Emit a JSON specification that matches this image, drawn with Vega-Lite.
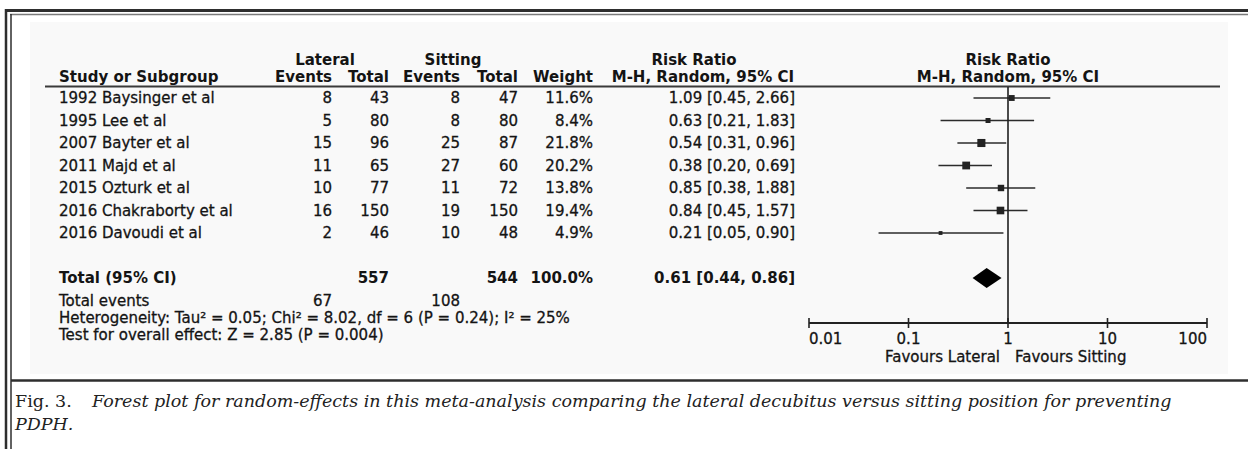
{
  "$schema": "https://vega.github.io/schema/vega-lite/v6.json",
  "width": 1248,
  "height": 449,
  "autosize": "none",
  "padding": 0,
  "background": "white",
  "config": {
    "view": {"stroke": null},
    "text": {"font": "DejaVu Sans", "fontSize": 15, "color": "#141414", "baseline": "middle"}
  },
  "datasets": {
    "rows": [
      {"kind": "study", "row": "1992 Baysinger et al", "le": 8, "lt": 43, "se": 8, "st": 47, "weight": 0.116, "rr": 1.09, "lo": 0.45, "hi": 2.66, "ci": "1.09 [0.45, 2.66]"},
      {"kind": "study", "row": "1995 Lee et al", "le": 5, "lt": 80, "se": 8, "st": 80, "weight": 0.084, "rr": 0.63, "lo": 0.21, "hi": 1.83, "ci": "0.63 [0.21, 1.83]"},
      {"kind": "study", "row": "2007 Bayter et al", "le": 15, "lt": 96, "se": 25, "st": 87, "weight": 0.218, "rr": 0.54, "lo": 0.31, "hi": 0.96, "ci": "0.54 [0.31, 0.96]"},
      {"kind": "study", "row": "2011 Majd et al", "le": 11, "lt": 65, "se": 27, "st": 60, "weight": 0.202, "rr": 0.38, "lo": 0.20, "hi": 0.69, "ci": "0.38 [0.20, 0.69]"},
      {"kind": "study", "row": "2015 Ozturk et al", "le": 10, "lt": 77, "se": 11, "st": 72, "weight": 0.138, "rr": 0.85, "lo": 0.38, "hi": 1.88, "ci": "0.85 [0.38, 1.88]"},
      {"kind": "study", "row": "2016 Chakraborty et al", "le": 16, "lt": 150, "se": 19, "st": 150, "weight": 0.194, "rr": 0.84, "lo": 0.45, "hi": 1.57, "ci": "0.84 [0.45, 1.57]"},
      {"kind": "study", "row": "2016 Davoudi et al", "le": 2, "lt": 46, "se": 10, "st": 48, "weight": 0.049, "rr": 0.21, "lo": 0.05, "hi": 0.90, "ci": "0.21 [0.05, 0.90]"},
      {"kind": "total", "row": "Total (95% CI)", "lt": 557, "st": 544, "weight": 1.0, "rr": 0.61, "lo": 0.44, "hi": 0.86, "ci": "0.61 [0.44, 0.86]"},
      {"kind": "events", "row": "Total events", "le": 67, "se": 108}
    ],
    "decades": [{"t": 0.01}, {"t": 0.1}, {"t": 1}, {"t": 10}, {"t": 100}]
  },
  "data": {"name": "rows"},
  "layer": [
    {"data": {"values": [{}]}, "mark": {"type": "rect", "fill": "#f9f9f9"}, "encoding": {"x": {"value": 30}, "x2": {"value": 1228}, "y": {"value": 22}, "y2": {"value": 374}}},
    {"data": {"values": [{}]}, "mark": {"type": "rule", "stroke": "#2e2e2e", "strokeWidth": 3}, "encoding": {"x": {"value": 5}, "x2": {"value": 1248}, "y": {"value": 10.5}}},
    {"data": {"values": [{}]}, "mark": {"type": "rule", "stroke": "#7a7a7a", "strokeWidth": 1.5}, "encoding": {"x": {"value": 10}, "x2": {"value": 1248}, "y": {"value": 14.5}}},
    {"data": {"values": [{}]}, "mark": {"type": "rule", "stroke": "#2e2e2e", "strokeWidth": 2.5}, "encoding": {"x": {"value": 6}, "y": {"value": 9}, "y2": {"value": 449}}},
    {"data": {"values": [{}]}, "mark": {"type": "rule", "stroke": "#2e2e2e", "strokeWidth": 1.5}, "encoding": {"x": {"value": 11}, "y": {"value": 14}, "y2": {"value": 449}}},
    {"data": {"values": [{}]}, "mark": {"type": "rule", "stroke": "#2e2e2e", "strokeWidth": 2.5}, "encoding": {"x": {"value": 11}, "x2": {"value": 1248}, "y": {"value": 380.5}}},
    {"data": {"values": [{}]}, "mark": {"type": "rule", "stroke": "#3a3a3a", "strokeWidth": 2}, "encoding": {"x": {"value": 45}, "x2": {"value": 1220}, "y": {"value": 86.5}}},

    {"data": {"values": [{}]}, "mark": {"type": "text", "text": "Lateral", "fontWeight": "bold", "align": "center"}, "encoding": {"x": {"value": 325}, "y": {"value": 60}}},
    {"data": {"values": [{}]}, "mark": {"type": "text", "text": "Sitting", "fontWeight": "bold", "align": "center"}, "encoding": {"x": {"value": 453}, "y": {"value": 60}}},
    {"data": {"values": [{}]}, "mark": {"type": "text", "text": "Risk Ratio", "fontWeight": "bold", "align": "center"}, "encoding": {"x": {"value": 694}, "y": {"value": 60}}},
    {"data": {"values": [{}]}, "mark": {"type": "text", "text": "Study or Subgroup", "fontWeight": "bold", "align": "left"}, "encoding": {"x": {"value": 59}, "y": {"value": 77}}},
    {"data": {"values": [{}]}, "mark": {"type": "text", "text": "Events", "fontWeight": "bold", "align": "right"}, "encoding": {"x": {"value": 332}, "y": {"value": 77}}},
    {"data": {"values": [{}]}, "mark": {"type": "text", "text": "Total", "fontWeight": "bold", "align": "right"}, "encoding": {"x": {"value": 389}, "y": {"value": 77}}},
    {"data": {"values": [{}]}, "mark": {"type": "text", "text": "Events", "fontWeight": "bold", "align": "right"}, "encoding": {"x": {"value": 460}, "y": {"value": 77}}},
    {"data": {"values": [{}]}, "mark": {"type": "text", "text": "Total", "fontWeight": "bold", "align": "right"}, "encoding": {"x": {"value": 518}, "y": {"value": 77}}},
    {"data": {"values": [{}]}, "mark": {"type": "text", "text": "Weight", "fontWeight": "bold", "align": "right"}, "encoding": {"x": {"value": 593}, "y": {"value": 77}}},
    {"data": {"values": [{}]}, "mark": {"type": "text", "text": "M-H, Random, 95% CI", "fontWeight": "bold", "align": "right"}, "encoding": {"x": {"value": 794}, "y": {"value": 77}}},
    {"data": {"values": [{}]}, "mark": {"type": "text", "text": "Risk Ratio", "fontWeight": "bold", "align": "center"}, "encoding": {"x": {"datum": 1, "type": "quantitative", "scale": {"type": "log", "domain": [0.01, 100], "range": [809, 1207]}, "axis": null}, "y": {"value": 60}}},
    {"data": {"values": [{}]}, "mark": {"type": "text", "text": "M-H, Random, 95% CI", "fontWeight": "bold", "align": "center"}, "encoding": {"x": {"datum": 1, "type": "quantitative", "scale": {"type": "log", "domain": [0.01, 100], "range": [809, 1207]}, "axis": null}, "y": {"value": 77}}},

    {"mark": {"type": "text", "align": "left", "stroke": "#141414", "strokeWidth": {"expr": "datum.kind === 'total' ? 0 : 0.3"}, "fontWeight": {"expr": "datum.kind === 'total' ? 'bold' : 'normal'"}}, "encoding": {"x": {"value": 59}, "y": {"field": "row", "type": "nominal", "scale": {"type": "point", "padding": 0, "domain": ["1992 Baysinger et al", "1995 Lee et al", "2007 Bayter et al", "2011 Majd et al", "2015 Ozturk et al", "2016 Chakraborty et al", "2016 Davoudi et al", " ", "Total (95% CI)", "Total events"], "range": [98, 300.5]}, "axis": null}, "text": {"field": "row", "type": "nominal"}}},
    {"transform": [{"filter": "isValid(datum.le)"}], "mark": {"type": "text", "align": "right", "stroke": "#141414", "strokeWidth": {"expr": "datum.kind === 'total' ? 0 : 0.3"}, "fontWeight": {"expr": "datum.kind === 'total' ? 'bold' : 'normal'"}}, "encoding": {"x": {"value": 332}, "y": {"field": "row", "type": "nominal", "axis": null}, "text": {"field": "le", "type": "quantitative"}}},
    {"transform": [{"filter": "isValid(datum.lt)"}], "mark": {"type": "text", "align": "right", "stroke": "#141414", "strokeWidth": {"expr": "datum.kind === 'total' ? 0 : 0.3"}, "fontWeight": {"expr": "datum.kind === 'total' ? 'bold' : 'normal'"}}, "encoding": {"x": {"value": 389}, "y": {"field": "row", "type": "nominal", "axis": null}, "text": {"field": "lt", "type": "quantitative"}}},
    {"transform": [{"filter": "isValid(datum.se)"}], "mark": {"type": "text", "align": "right", "stroke": "#141414", "strokeWidth": {"expr": "datum.kind === 'total' ? 0 : 0.3"}, "fontWeight": {"expr": "datum.kind === 'total' ? 'bold' : 'normal'"}}, "encoding": {"x": {"value": 460}, "y": {"field": "row", "type": "nominal", "axis": null}, "text": {"field": "se", "type": "quantitative"}}},
    {"transform": [{"filter": "isValid(datum.st)"}], "mark": {"type": "text", "align": "right", "stroke": "#141414", "strokeWidth": {"expr": "datum.kind === 'total' ? 0 : 0.3"}, "fontWeight": {"expr": "datum.kind === 'total' ? 'bold' : 'normal'"}}, "encoding": {"x": {"value": 518}, "y": {"field": "row", "type": "nominal", "axis": null}, "text": {"field": "st", "type": "quantitative"}}},
    {"transform": [{"filter": "isValid(datum.weight)"}], "mark": {"type": "text", "align": "right", "stroke": "#141414", "strokeWidth": {"expr": "datum.kind === 'total' ? 0 : 0.3"}, "fontWeight": {"expr": "datum.kind === 'total' ? 'bold' : 'normal'"}}, "encoding": {"x": {"value": 593}, "y": {"field": "row", "type": "nominal", "axis": null}, "text": {"field": "weight", "type": "quantitative", "format": ".1%"}}},
    {"transform": [{"filter": "isValid(datum.ci)"}], "mark": {"type": "text", "align": "right", "stroke": "#141414", "strokeWidth": {"expr": "datum.kind === 'total' ? 0 : 0.3"}, "fontWeight": {"expr": "datum.kind === 'total' ? 'bold' : 'normal'"}}, "encoding": {"x": {"value": 795}, "y": {"field": "row", "type": "nominal", "axis": null}, "text": {"field": "ci", "type": "nominal"}}},

    {"data": {"values": [{}]}, "mark": {"type": "text", "text": "Heterogeneity: Tau² = 0.05; Chi² = 8.02, df = 6 (P = 0.24); I² = 25%", "align": "left", "stroke": "#141414", "strokeWidth": 0.3}, "encoding": {"x": {"value": 59}, "y": {"value": 318}}},
    {"data": {"values": [{}]}, "mark": {"type": "text", "text": "Test for overall effect: Z = 2.85 (P = 0.004)", "align": "left", "stroke": "#141414", "strokeWidth": 0.3}, "encoding": {"x": {"value": 59}, "y": {"value": 335}}},

    {"transform": [{"filter": "datum.kind === 'study'"}], "mark": {"type": "rule", "stroke": "#2b2b2b", "strokeWidth": 1.6}, "encoding": {
      "x": {"field": "lo", "type": "quantitative", "scale": {"type": "log", "domain": [0.01, 100], "range": [809, 1207]}, "axis": null},
      "x2": {"field": "hi"},
      "y": {"field": "row", "type": "nominal", "axis": null}}},
    {"data": {"values": [{}]}, "mark": {"type": "rule", "stroke": "#222222", "strokeWidth": 2}, "encoding": {"x": {"datum": 0.01, "type": "quantitative", "scale": {"type": "log", "domain": [0.01, 100], "range": [809, 1207]}, "axis": null}, "x2": {"datum": 100}, "y": {"value": 323}}},
    {"data": {"name": "decades"}, "mark": {"type": "rule", "stroke": "#222222", "strokeWidth": 1.6}, "encoding": {"x": {"field": "t", "type": "quantitative", "scale": {"type": "log", "domain": [0.01, 100], "range": [809, 1207]}, "axis": null}, "y": {"value": 318}, "y2": {"value": 328}}},
    {"data": {"name": "decades"}, "mark": {"type": "text", "stroke": "#141414", "strokeWidth": 0.3, "align": {"expr": "datum.t === 0.01 ? 'left' : (datum.t === 100 ? 'right' : 'center')"}}, "encoding": {"x": {"field": "t", "type": "quantitative", "scale": {"type": "log", "domain": [0.01, 100], "range": [809, 1207]}, "axis": null}, "y": {"value": 339}, "text": {"field": "t", "type": "quantitative", "format": "~g"}}},
    {"data": {"values": [{}]}, "mark": {"type": "rule", "stroke": "#1f1f1f", "strokeWidth": 1.6}, "encoding": {"x": {"datum": 1, "type": "quantitative", "scale": {"type": "log", "domain": [0.01, 100], "range": [809, 1207]}, "axis": null}, "y": {"value": 87}, "y2": {"value": 323}}},
    {"transform": [{"filter": "datum.kind === 'study'"}], "mark": {"type": "square", "filled": true, "color": "#222222", "opacity": 1}, "encoding": {
      "x": {"field": "rr", "type": "quantitative", "scale": {"type": "log", "domain": [0.01, 100], "range": [809, 1207]}, "axis": null},
      "y": {"field": "row", "type": "nominal", "axis": null},
      "size": {"field": "weight", "type": "quantitative", "scale": {"type": "linear", "domain": [0, 0.25], "range": [0, 75]}, "legend": null}}},
    {"transform": [{"filter": "datum.kind === 'total'"}], "mark": {"type": "point", "filled": true, "color": "#000000", "opacity": 1, "size": 841, "shape": "M -0.97 0 L 0 -0.69 L 1.03 0 L 0 0.69 Z"}, "encoding": {
      "x": {"field": "rr", "type": "quantitative", "scale": {"type": "log", "domain": [0.01, 100], "range": [809, 1207]}, "axis": null},
      "y": {"field": "row", "type": "nominal", "axis": null}}},

    {"data": {"values": [{}]}, "mark": {"type": "text", "text": "Favours Lateral", "align": "right", "dx": -8, "stroke": "#141414", "strokeWidth": 0.3}, "encoding": {"x": {"datum": 1, "type": "quantitative", "scale": {"type": "log", "domain": [0.01, 100], "range": [809, 1207]}, "axis": null}, "y": {"value": 357}}},
    {"data": {"values": [{}]}, "mark": {"type": "text", "text": "Favours Sitting", "align": "left", "dx": 7, "stroke": "#141414", "strokeWidth": 0.3}, "encoding": {"x": {"datum": 1, "type": "quantitative", "scale": {"type": "log", "domain": [0.01, 100], "range": [809, 1207]}, "axis": null}, "y": {"value": 357}}},

    {"data": {"values": [{}]}, "mark": {"type": "text", "text": "Fig. 3.", "align": "left", "font": "DejaVu Serif", "fontSize": 17.5, "color": "#222222"}, "encoding": {"x": {"value": 15}, "y": {"value": 402}}},
    {"data": {"values": [{}]}, "mark": {"type": "text", "text": "Forest plot for random-effects in this meta-analysis comparing the lateral decubitus versus sitting position for preventing", "align": "left", "font": "DejaVu Serif", "fontStyle": "italic", "fontSize": 17.5, "color": "#222222"}, "encoding": {"x": {"value": 92}, "y": {"value": 402}}},
    {"data": {"values": [{}]}, "mark": {"type": "text", "text": "PDPH.", "align": "left", "font": "DejaVu Serif", "fontStyle": "italic", "fontSize": 17.5, "color": "#222222"}, "encoding": {"x": {"value": 15}, "y": {"value": 425}}}
  ]
}
